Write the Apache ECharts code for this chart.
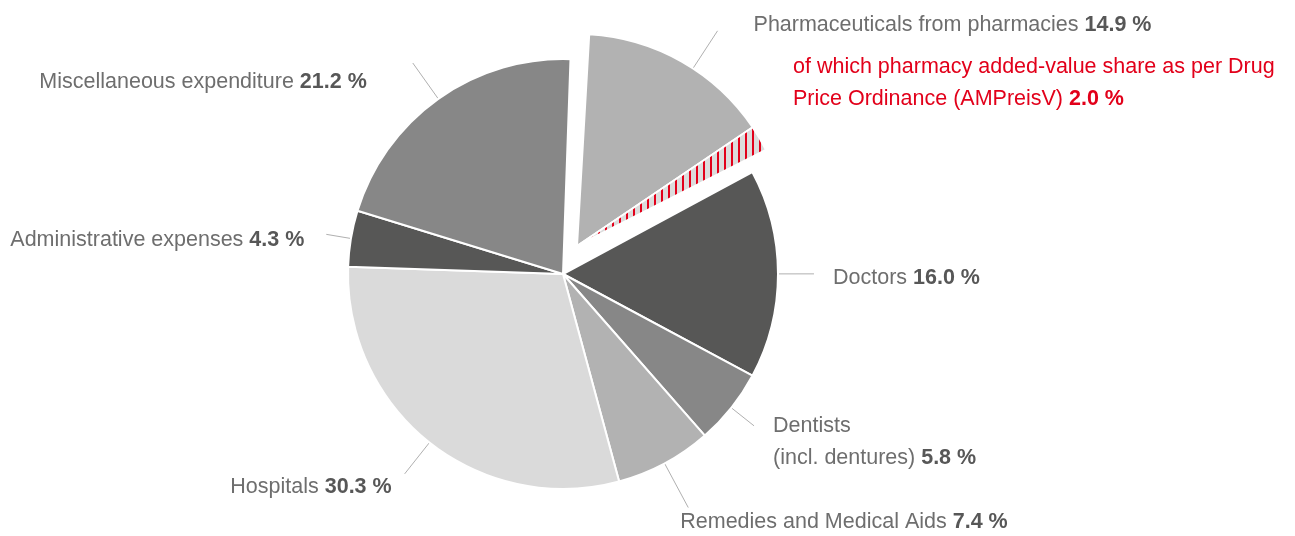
<!DOCTYPE html>
<html><head><meta charset="utf-8">
<script src="https://cdn.jsdelivr.net/npm/echarts@6/dist/echarts.min.js"></script>
<style>html,body{margin:0;padding:0;background:#fff}#c{width:1295px;height:536px}</style>
</head><body><div id="c"></div>
<script>
// ---- data ----
const pharmName = 'Pharmaceuticals from pharmacies';
const pharmValue = 14.9;
const shareName = 'of which pharmacy added-value share as per Drug\nPrice Ordinance (AMPreisV)';
const shareValue = 2.0;
const categories = ['Doctors', 'Dentists\n(incl. dentures)', 'Remedies and Medical Aids', 'Hospitals', 'Administrative expenses', 'Miscellaneous expenditure'];
const values = [16.0, 5.8, 7.4, 30.3, 4.3, 21.2];

// ---- styles ----
const sliceColors = ['#575756', '#878787', '#b2b2b2', '#dadada', '#575756', '#878787'];
const pharmColor = '#b2b2b2';
const red = '#e2001a';
const FONT = '"Liberation Sans", Arial, Helvetica, sans-serif';
const FS = 21.5;
// per-slice label tweaks: line length, distance to line, padding, line height
const labelTweaks = [
  { len: 36, dist: 19, pad: [8, 0, 0, 0], lh: 32 },
  { len: 29, dist: 19, pad: [32, 0, 0, 0], lh: 32 },
  { len: 50, dist: -8, pad: [30, 0, 0, 0], lh: 22 },
  { len: 40, dist: 13, pad: [26, 0, 0, 0], lh: 32 },
  { len: 25, dist: 22, pad: [12, 0, 0, 0], lh: 32 },
  { len: 44, dist: 46, pad: [38, 0, 0, 0], lh: 32 }
];

const fmt = v => v.toFixed(1) + ' %';
const rest = values.reduce((a, b) => a + b, 0);

const hatch = document.createElement('canvas');
hatch.width = 7; hatch.height = 7;
const g = hatch.getContext('2d');
g.fillStyle = '#dcdcdc'; g.fillRect(0, 0, 7, 7);
g.fillStyle = red; g.fillRect(3, 0, 2, 7);

const hidden = { color: 'transparent', borderWidth: 0, borderColor: 'transparent' };
const noLabel = { label: { show: false }, labelLine: { show: false } };

const boldStyle = lh => ({ fontFamily: FONT, fontSize: FS, fontWeight: 'bold', color: '#575757', lineHeight: lh });
const baseLabel = {
  show: true, position: 'outside', fontFamily: FONT, fontSize: FS, color: '#6e6e6e', lineHeight: 32,
  rich: { b: boldStyle(32) }
};
const baseLine = { show: true, length2: 0, lineStyle: { color: '#b0b0b0', width: 1 } };

const mainData = [
  Object.assign({ value: pharmValue, name: pharmName, itemStyle: hidden }, noLabel),
  Object.assign({ value: shareValue, name: shareName, itemStyle: hidden }, noLabel)
].concat(categories.map((n, i) => ({
  value: values[i], name: n,
  itemStyle: { color: sliceColors[i] },
  label: {
    formatter: n + ' {b|' + fmt(values[i]) + '}',
    distanceToLabelLine: labelTweaks[i].dist, padding: labelTweaks[i].pad,
    lineHeight: labelTweaks[i].lh, rich: { b: boldStyle(labelTweaks[i].lh) }
  },
  labelLine: { length: labelTweaks[i].len }
})));

const chart = echarts.init(document.getElementById('c'), null, { renderer: 'canvas' });
chart.setOption({
  animation: false,
  backgroundColor: '#fff',
  title: {
    left: 793, top: 51, padding: 0,
    text: shareName + ' {b|' + fmt(shareValue) + '}',
    textStyle: {
      fontFamily: FONT, fontSize: FS, fontWeight: 'normal', color: red, lineHeight: 32,
      rich: { b: { fontFamily: FONT, fontSize: FS, fontWeight: 'bold', color: red, lineHeight: 32 } }
    }
  },
  series: [
    {
      type: 'pie', silent: true, center: [563, 274], radius: 215, startAngle: 88, clockwise: true,
      avoidLabelOverlap: false, labelLayout: { hideOverlap: false },
      itemStyle: { borderColor: '#fff', borderWidth: 2 },
      label: baseLabel, labelLine: baseLine,
      data: mainData
    },
    {
      type: 'pie', silent: true, center: [577, 246], radius: 212, startAngle: 86.7, clockwise: true,
      avoidLabelOverlap: false,
      itemStyle: { borderColor: '#fff', borderWidth: 2 },
      label: { show: false }, labelLine: { show: false },
      data: [
        { value: pharmValue, name: pharmName, itemStyle: { color: pharmColor } },
        { value: shareValue, name: shareName, itemStyle: { color: { image: hatch, repeat: 'repeat' } } },
        { value: rest, name: 'rest', itemStyle: hidden }
      ]
    },
    {
      type: 'pie', silent: true, center: [577, 246], radius: 212, startAngle: 86.7, clockwise: true,
      avoidLabelOverlap: false, labelLayout: { hideOverlap: false },
      itemStyle: hidden,
      label: baseLabel, labelLine: baseLine,
      data: [
        { value: pharmValue + shareValue, name: pharmName, itemStyle: hidden,
          label: { formatter: pharmName + ' {b|' + fmt(pharmValue) + '}', distanceToLabelLine: 36, padding: [0, 0, 12, 0] },
          labelLine: { length: 45 } },
        Object.assign({ value: rest, name: 'rest', itemStyle: hidden }, noLabel)
      ]
    }
  ]
});
</script>
</body></html>
